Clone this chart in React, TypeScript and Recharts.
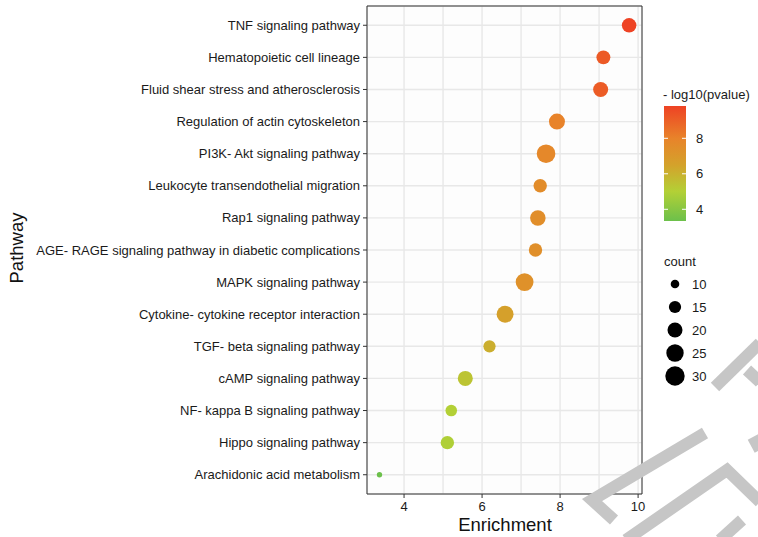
import React from 'react';
import { ScatterChart, Scatter, XAxis, YAxis, ZAxis, CartesianGrid, ReferenceArea, Cell } from 'recharts';

const pathways = [
  'TNF signaling pathway',
  'Hematopoietic cell lineage',
  'Fluid shear stress and atherosclerosis',
  'Regulation of actin cytoskeleton',
  'PI3K- Akt signaling pathway',
  'Leukocyte transendothelial migration',
  'Rap1 signaling pathway',
  'AGE- RAGE signaling pathway in diabetic complications',
  'MAPK signaling pathway',
  'Cytokine- cytokine receptor interaction',
  'TGF- beta signaling pathway',
  'cAMP signaling pathway',
  'NF- kappa B signaling pathway',
  'Hippo signaling pathway',
  'Arachidonic acid metabolism',
];
const enrichment = [9.77, 9.11, 9.04, 7.92, 7.64, 7.49, 7.43, 7.37, 7.09, 6.59, 6.19, 5.57, 5.21, 5.11, 3.37];
const counts = [19, 18, 20, 22, 28, 17, 21, 17, 26, 24, 15, 20, 14, 17, 7];
const logp = [9.8, 9.15, 9.1, 8.0, 7.75, 7.55, 7.45, 7.4, 7.3, 6.6, 6.1, 5.4, 5.0, 4.9, 3.34];

const xTicks = [4, 5, 6, 7, 8, 9, 10];
const xLabelTicks = [4, 6, 8, 10];
const colorTicks = [8, 6, 4];
const sizeTicks = [10, 15, 20, 25, 30];
const colorDomain = [3.34, 9.82];
const colorStops: [number, string][] = [
  [3.34, '#6cc04b'],
  [5.0, '#b3d036'],
  [6.5, '#d4a22b'],
  [8.0, '#e8832a'],
  [9.82, '#ee4224'],
];
const xDomain = [3.05, 10.1];
const yDomain = [0.4, 15.6];
const zDomain = [6, 30];
const zRange = [10.4, 296];

const hexToRgb = (h: string) => [1, 3, 5].map((i) => parseInt(h.slice(i, i + 2), 16));
const colorFor = (v: number) => {
  for (let i = 0; i < colorStops.length - 1; i++) {
    const [a, ca] = colorStops[i];
    const [b, cb] = colorStops[i + 1];
    if (v <= b || i === colorStops.length - 2) {
      const t = Math.max(0, Math.min(1, (v - a) / (b - a)));
      const A = hexToRgb(ca);
      const B = hexToRgb(cb);
      const c = A.map((x, k) => Math.round(x + (B[k] - x) * t));
      return `rgb(${c[0]},${c[1]},${c[2]})`;
    }
  }
  return colorStops[0][1];
};
const radiusFor = (c: number) => {
  const area = zRange[0] + ((c - zDomain[0]) * (zRange[1] - zRange[0])) / (zDomain[1] - zDomain[0]);
  return Math.sqrt(area / Math.PI);
};

const data = pathways.map((name, i) => ({
  name,
  y: i + 1,
  enrichment: enrichment[i],
  count: counts[i],
  logp: logp[i],
}));

const FONT = '"Liberation Sans", Arial, Helvetica, sans-serif';

const XTick = (props: any) => {
  const { x, y, payload } = props;
  const v = payload.value;
  if (!xLabelTicks.includes(v)) return <g />;
  return (
    <g>
      <line x1={x} x2={x} y1={y - 8} y2={y - 4} stroke="#333" strokeWidth={1} />
      <text x={x} y={y} dy="0.71em" textAnchor="middle" fontSize={13} fill="#1a1a1a" fontFamily={FONT}>
        {v}
      </text>
    </g>
  );
};

const YTick = (props: any) => {
  const { x, y, payload } = props;
  const label = pathways[payload.value - 1] ?? '';
  return (
    <g>
      <line x1={x + 3} x2={x + 7} y1={y} y2={y} stroke="#333" strokeWidth={1} />
      <text x={x} y={y} dy="0.35em" textAnchor="end" fontSize={13} fill="#1a1a1a" fontFamily={FONT}>
        {label}
      </text>
    </g>
  );
};

const barTop = 106;
const barBottom = 221;
const barX = 664;
const barW = 22;
const barY = (v: number) => barTop + ((colorDomain[1] - v) / (colorDomain[1] - colorDomain[0])) * (barBottom - barTop);

export default function App() {
  return (
    <div style={{ position: 'relative', width: 758, height: 537, background: '#fff', fontFamily: FONT }}>
      <style>{'body{margin:0;}'}</style>
      <ScatterChart width={758} height={537} margin={{ top: 6, right: 116, bottom: 0, left: 0 }}>
        <CartesianGrid stroke="#e8e8e8" strokeWidth={1.4} fill="#fdfdfd" />
        <XAxis
          type="number"
          dataKey="enrichment"
          domain={xDomain}
          ticks={xTicks}
          interval={0}
          allowDataOverflow
          height={43}
          tickSize={4}
          tickMargin={4}
          tickLine={false}
          axisLine={false}
          tick={<XTick />}
        />
        <YAxis
          type="number"
          dataKey="y"
          domain={yDomain}
          ticks={pathways.map((_, i) => i + 1)}
          interval={0}
          reversed
          allowDataOverflow
          width={367}
          tickSize={4}
          tickMargin={3}
          axisLine={false}
          tickLine={false}
          tick={<YTick />}
        />
        <ZAxis type="number" dataKey="count" domain={zDomain} range={zRange} />
        <Scatter data={data} isAnimationActive={false}>
          {data.map((d, i) => (
            <Cell key={i} fill={colorFor(d.logp)} />
          ))}
        </Scatter>
        <ReferenceArea
          x1={xDomain[0]}
          x2={xDomain[1]}
          y1={yDomain[0]}
          y2={yDomain[1]}
          fill="none"
          fillOpacity={0}
          stroke="#333"
          strokeWidth={1}
          ifOverflow="visible"
        />
      </ScatterChart>
      <svg
        width={758}
        height={537}
        style={{ position: 'absolute', left: 0, top: 0, pointerEvents: 'none' }}
        fontFamily={FONT}
      >
        <defs>
          <linearGradient id="cbar" x1="0" y1="1" x2="0" y2="0">
            {colorStops.map(([v, c], i) => (
              <stop
                key={i}
                offset={`${((v - colorDomain[0]) / (colorDomain[1] - colorDomain[0])) * 100}%`}
                stopColor={c}
              />
            ))}
          </linearGradient>
        </defs>
        <text x={505} y={531} textAnchor="middle" fontSize={18.5} fill="#111">
          Enrichment
        </text>
        <text x={23} y={248} textAnchor="middle" fontSize={18.5} fill="#111" transform="rotate(-90 23 248)">
          Pathway
        </text>
        <text x={663} y={99} fontSize={13} fill="#1a1a1a">
          - log10(pvalue)
        </text>
        <rect x={barX} y={barTop} width={barW} height={barBottom - barTop} fill="url(#cbar)" />
        {colorTicks.map((v) => (
          <g key={v}>
            <line x1={barX} x2={barX + 4} y1={barY(v)} y2={barY(v)} stroke="#fff" strokeWidth={1} />
            <line x1={barX + barW - 4} x2={barX + barW} y1={barY(v)} y2={barY(v)} stroke="#fff" strokeWidth={1} />
            <text x={barX + barW + 10} y={barY(v)} dy="0.35em" fontSize={13} fill="#1a1a1a">
              {v}
            </text>
          </g>
        ))}
        <text x={664} y={266} fontSize={13} fill="#1a1a1a">
          count
        </text>
        {sizeTicks.map((c, i) => {
          const cy = 284 + i * 23;
          return (
            <g key={c}>
              <circle cx={675} cy={cy} r={radiusFor(c)} fill="#000" />
              <text x={692} y={cy} dy="0.35em" fontSize={13} fill="#1a1a1a">
                {c}
              </text>
            </g>
          );
        })}
        <g stroke="#c6c6c6" strokeWidth={12} fill="none" strokeLinejoin="miter" strokeLinecap="butt">
          <polyline points="705,433 592,500 614,520" />
          <polyline points="626,540 727,470 760,502" />
          <polyline points="720,540 742,520" />
          <polyline points="715,387 760,343" />
          <polyline points="747,370 760,382" />
          <polyline points="753,437 760,450" />
        </g>
      </svg>
    </div>
  );
}
